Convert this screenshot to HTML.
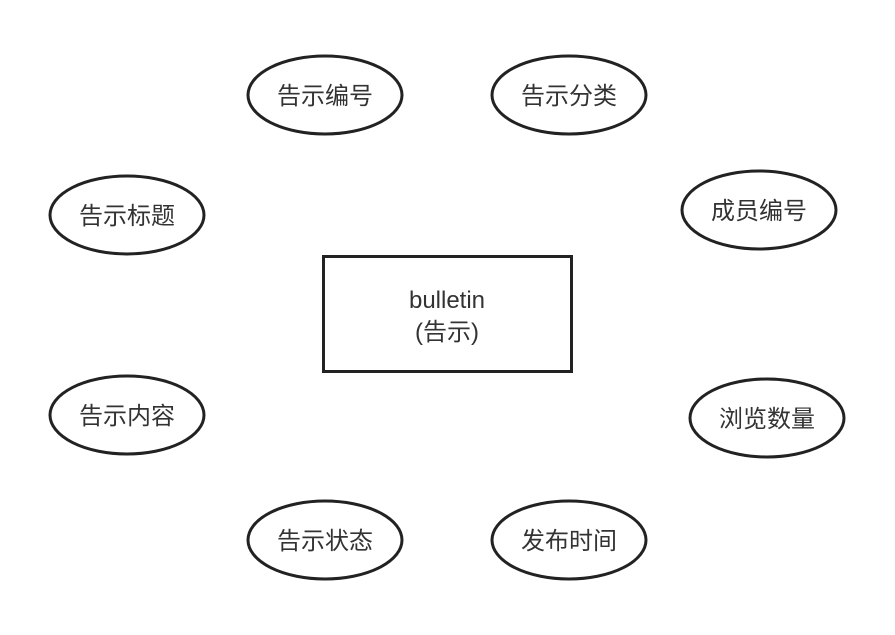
<!DOCTYPE html>
<html><head><meta charset="utf-8"><style>html,body{margin:0;padding:0;background:#fff}</style></head>
<body>
<svg width="895" height="630" viewBox="0 0 895 630" xmlns="http://www.w3.org/2000/svg" font-family="'Liberation Sans','Noto Sans CJK SC',sans-serif" font-size="24" fill="#333">
<g fill="#fff" stroke="#222" stroke-width="3">
<rect x="323.5" y="256.5" width="248" height="115"/>
<ellipse cx="325" cy="95" rx="77" ry="39"/>
<ellipse cx="569" cy="95" rx="77" ry="39"/>
<ellipse cx="759" cy="210" rx="77" ry="39"/>
<ellipse cx="127" cy="215" rx="77" ry="39"/>
<ellipse cx="127" cy="415" rx="77" ry="39"/>
<ellipse cx="767" cy="418" rx="77" ry="39"/>
<ellipse cx="325" cy="540" rx="77" ry="39"/>
<ellipse cx="569" cy="540" rx="77" ry="39"/>
</g>
<g text-anchor="middle" fill="#333">
<text x="447" y="308">bulletin</text>
<text x="447" y="340">(告示)</text>
<text x="325" y="104">告示编号</text>
<text x="569" y="104">告示分类</text>
<text x="759" y="219">成员编号</text>
<text x="127" y="224">告示标题</text>
<text x="127" y="424">告示内容</text>
<text x="767" y="427">浏览数量</text>
<text x="325" y="549">告示状态</text>
<text x="569" y="549">发布时间</text>
</g>
</svg>
</body></html>
